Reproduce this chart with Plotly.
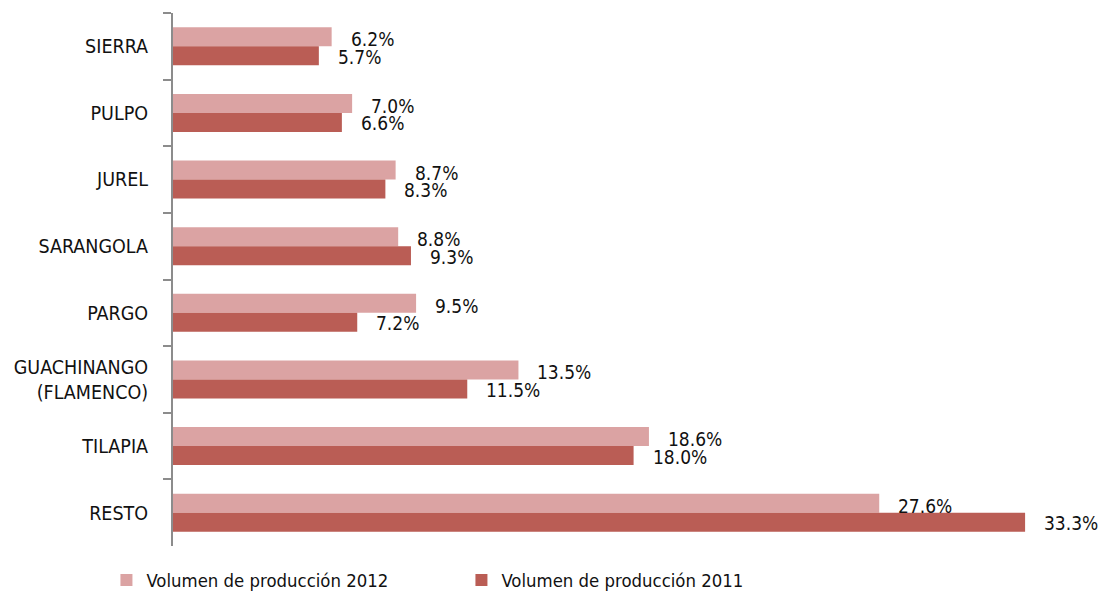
import plotly.graph_objects as go

# datos
especies = ["SIERRA", "PULPO", "JUREL", "SARANGOLA", "PARGO",
            "GUACHINANGO<br>(FLAMENCO)", "TILAPIA", "RESTO"]
vol_2012 = [6.2, 7.0, 8.7, 8.8, 9.5, 13.5, 18.6, 27.6]
vol_2011 = [5.7, 6.6, 8.3, 9.3, 7.2, 11.5, 18.0, 33.3]

col_2012 = "#DBA3A3"
col_2011 = "#BA5D55"
fuente = "DejaVu Sans Condensed, Liberation Sans Narrow, sans-serif"

fig = go.Figure()
fig.add_trace(go.Bar(
    y=especies, x=vol_2012, orientation="h", name="Volumen de producción 2012",
    marker=dict(color=col_2012, line=dict(width=0)),
))
fig.add_trace(go.Bar(
    y=especies, x=vol_2011, orientation="h", name="Volumen de producción 2011",
    marker=dict(color=col_2011, line=dict(width=0)),
))

# etiquetas de porcentaje a la derecha de cada barra
for esp, v12, v11 in zip(especies, vol_2012, vol_2011):
    fig.add_annotation(x=v12, y=esp, text=f"{v12:.1f}%", showarrow=False,
                       xanchor="left", yanchor="middle", xshift=17, yshift=7,
                       font=dict(size=19, family=fuente, color="#111111"))
    fig.add_annotation(x=v11, y=esp, text=f"{v11:.1f}%", showarrow=False,
                       xanchor="left", yanchor="middle", xshift=17, yshift=-10.5,
                       font=dict(size=19, family=fuente, color="#111111"))

fig.update_layout(
    width=1103, height=593,
    barmode="group", bargap=0.43, bargroupgap=0,
    plot_bgcolor="white", paper_bgcolor="white",
    margin=dict(l=173, r=60, t=13, b=47, autoexpand=False),
    font=dict(family=fuente, size=19, color="#111111"),
    legend=dict(orientation="h", xref="container", x=0.0965, xanchor="left",
                yref="container", y=0.022, yanchor="middle",
                entrywidth=310, entrywidthmode="pixels", itemwidth=30,
                font=dict(size=18.4, family=fuente), traceorder="normal"),
)
fig.update_xaxes(range=[0, 34], showticklabels=False, showgrid=False,
                 zeroline=False, showline=False)
fig.update_yaxes(autorange="reversed", showline=True, linecolor="#8C8C8C", linewidth=2,
                 ticks="outside", tickson="boundaries", ticklen=8, tickcolor="#8C8C8C",
                 tickwidth=2, showgrid=False, ticklabelstandoff=19,
                 tickfont=dict(size=19.5, family=fuente, color="#111111"))

# quitar el margen del body para que la figura ocupe la ventana completa
fig.write_html("out.html", config={"displayModeBar": False},
               post_script="document.body.style.margin='0';")
